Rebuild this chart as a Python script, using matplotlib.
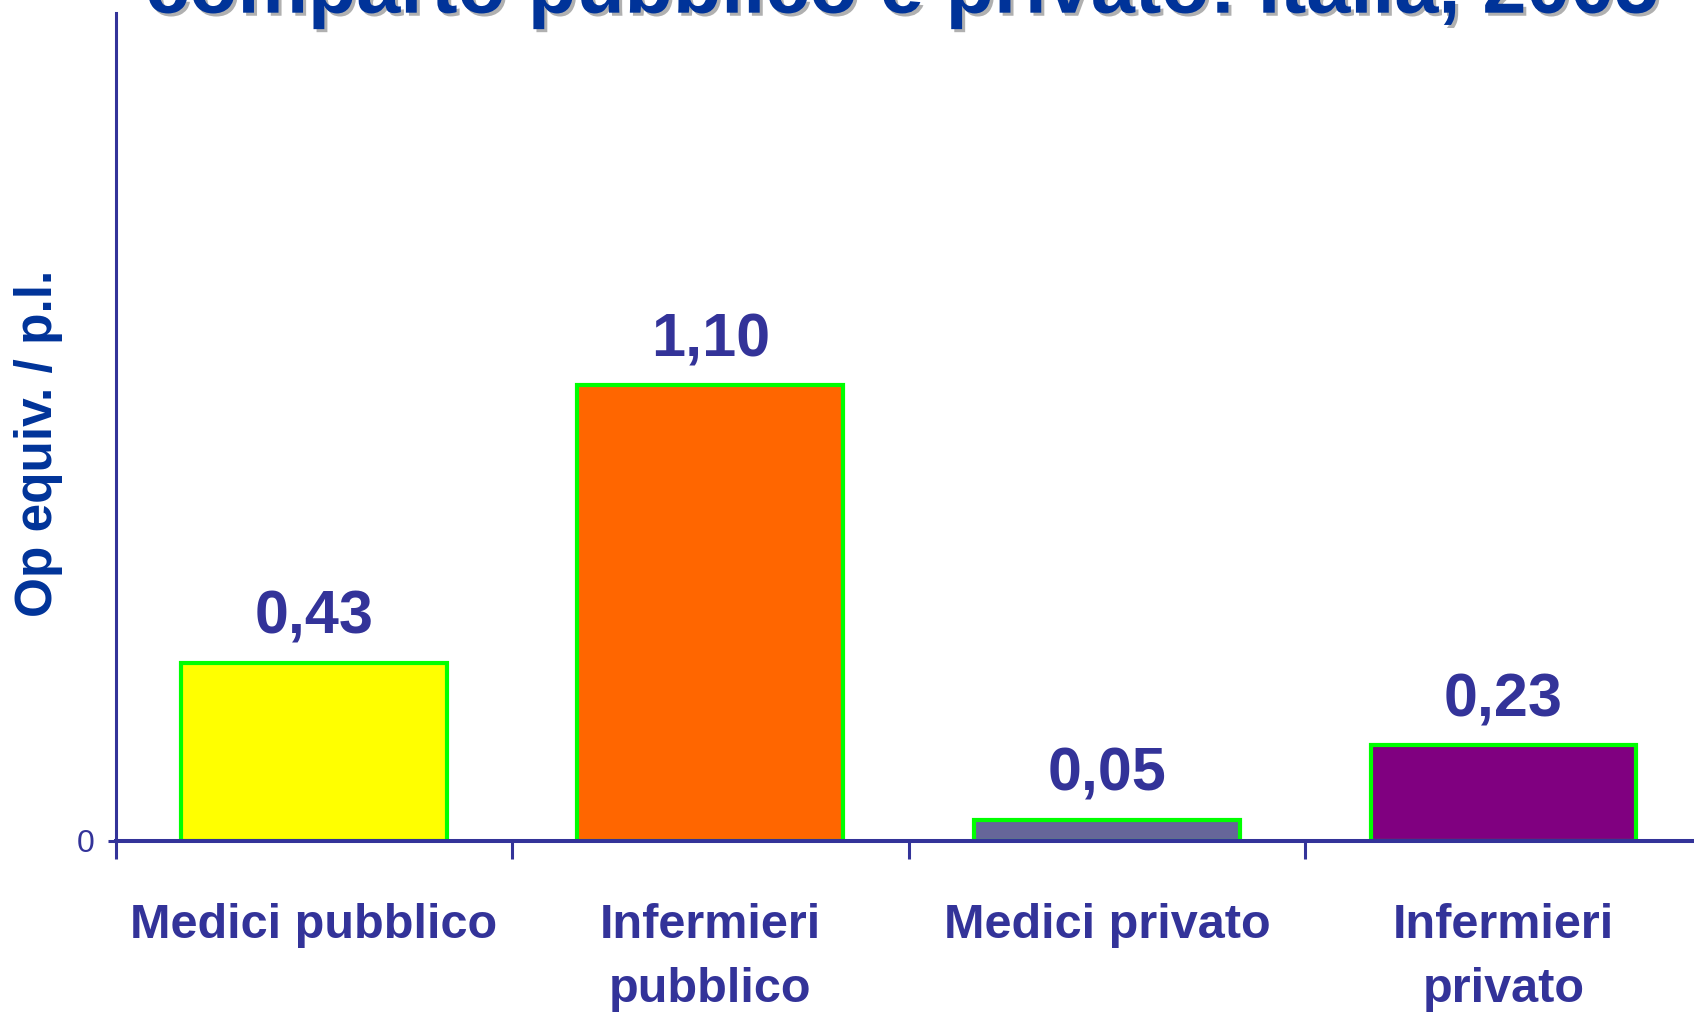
import matplotlib
matplotlib.use("Agg")
import matplotlib.pyplot as plt
import matplotlib.patheffects as pe
import numpy as np

categories = ["Medici pubblico", "Infermieri\npubblico", "Medici privato", "Infermieri\nprivato"]
values = [0.43, 1.10, 0.05, 0.23]
bar_colors = ["#FFFF00", "#FF6600", "#666699", "#800080"]
y_label = "Op equiv. / p.l."
title = "comparto pubblico e privato: Italia, 2005"

AXIS_COLOR = "#333399"
TITLE_COLOR = "#003399"

plt.rcParams["font.family"] = ["Liberation Sans", "DejaVu Sans"]

fig = plt.figure(figsize=(16.94, 10.16), dpi=100)
ax = fig.add_axes([0.0682, 0.1726, 0.9363, 0.8146])

x = np.arange(len(categories))
ax.bar(x, values, width=0.67, color=bar_colors, edgecolor="#00FF00", linewidth=3.0, zorder=2)

for xi, v in zip(x, values):
    ax.annotate(f"{v:.2f}".replace(".", ","), xy=(xi, v), xytext=(0, 21),
                textcoords="offset points", ha="center", va="baseline",
                fontsize=44, fontweight="bold", color=AXIS_COLOR)

ax.set_xlim(-0.5, len(categories) - 0.5)
ax.set_ylim(0, 2.0)

# category boundaries as major ticks, names on minor ticks
ax.set_xticks(np.arange(len(categories) + 1) - 0.5)
ax.set_xticklabels([])
ax.set_xticks(x, categories, minor=True)
ax.tick_params(axis="x", which="major", direction="out", length=13, width=2.2, color=AXIS_COLOR)
ax.tick_params(axis="x", which="minor", length=0, pad=45, labelsize=35, labelcolor=AXIS_COLOR)
for lbl in ax.get_xticklabels(minor=True):
    lbl.set_fontweight("bold")
    lbl.set_multialignment("center")
    lbl.set_linespacing(1.55)

ax.set_yticks([0])
ax.set_yticklabels(["0"])
ax.tick_params(axis="y", direction="out", length=5.5, width=2.2, color=AXIS_COLOR,
               labelsize=23, labelcolor=AXIS_COLOR, pad=10)

for side in ("top", "right"):
    ax.spines[side].set_visible(False)
ax.spines["bottom"].set_color(AXIS_COLOR)
ax.spines["bottom"].set_linewidth(2.9)
ax.spines["left"].set_color(AXIS_COLOR)
ax.spines["left"].set_linewidth(2.2)
ax.spines["bottom"].set_zorder(3)

fig.text(38.5 / 1694, 1 - 443 / 1016, y_label, rotation=90, ha="center", va="center",
         fontsize=37, fontweight="bold", color=TITLE_COLOR)

fig.text(902 / 1694, 1 - 12.7 / 1016, title, ha="center", va="baseline",
         fontsize=57, fontweight="bold", color=TITLE_COLOR,
         path_effects=[pe.withSimplePatchShadow(offset=(2.2, -2.2), shadow_rgbFace="#B0B0B0", alpha=1.0)])

fig.savefig("out.png", dpi=100)
